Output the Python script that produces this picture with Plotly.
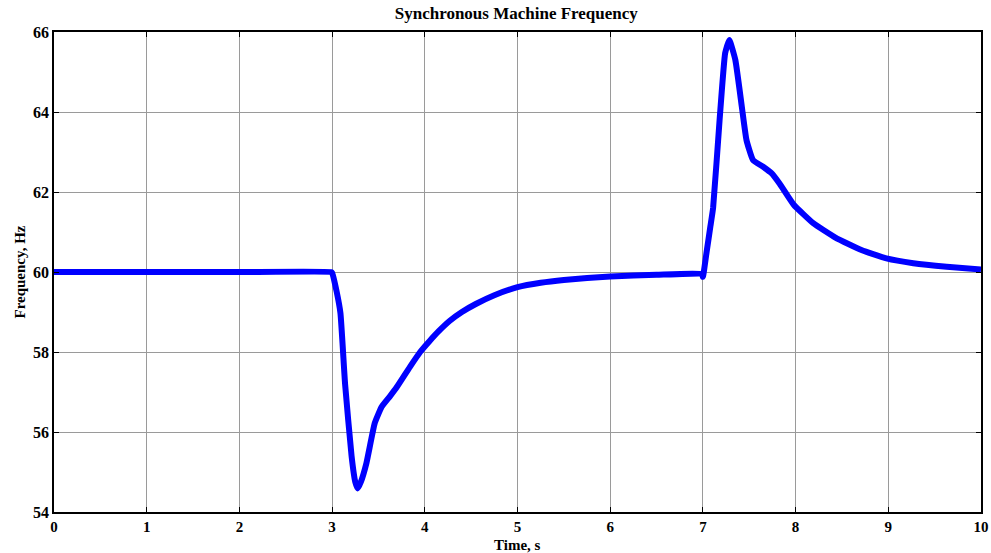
import plotly.graph_objects as go

# Simulated synchronous machine frequency response (time in s, frequency in Hz)
time_s = [0.0, 1.0, 2.0, 2.99, 3.0, 3.05, 3.09, 3.14, 3.21, 3.25, 3.276, 3.31, 3.37, 3.46,
          3.535, 3.62, 3.70, 3.84, 3.95, 4.05, 4.15, 4.27, 4.4, 4.55, 4.75, 5.0, 5.25, 5.5,
          6.0, 6.5, 6.99, 7.0, 7.04, 7.08, 7.11, 7.18, 7.24, 7.285, 7.35, 7.42, 7.47, 7.54,
          7.65, 7.74, 7.83, 7.98, 8.19, 8.43, 8.71, 8.98, 9.27, 9.63, 10.0]
freq_hz = [60.0, 60.0, 60.0, 60.0, 59.98, 59.5, 58.97, 57.2, 55.4, 54.75, 54.59, 54.75, 55.22, 56.22,
           56.63, 56.88, 57.13, 57.63, 58.0, 58.27, 58.52, 58.78, 59.0, 59.2, 59.42, 59.62, 59.73, 59.8,
           59.89, 59.93, 59.95, 59.88, 60.5, 61.13, 61.6, 63.8, 65.47, 65.8, 65.3, 64.13, 63.3, 62.8,
           62.63, 62.47, 62.2, 61.68, 61.22, 60.86, 60.55, 60.34, 60.22, 60.13, 60.06]

x_ticks = list(range(0, 11))
y_ticks = [54, 56, 58, 60, 62, 64, 66]

font_family = "Liberation Serif, Times New Roman, serif"

fig = go.Figure()
fig.add_trace(go.Scatter(
    x=time_s, y=freq_hz, mode="lines",
    line=dict(color="#0000FF", width=6, shape="spline", smoothing=0.4),
    showlegend=False,
))

axis_common = dict(
    showgrid=True, gridcolor="#9a9a9a", gridwidth=1,
    showline=True, linecolor="black", linewidth=1.5, mirror="ticks",
    ticks="inside", ticklen=5, tickcolor="black", tickwidth=1,
    zeroline=False, automargin=False,
)

fig.update_xaxes(range=[0, 10], tickvals=x_ticks, ticktext=[str(v) for v in x_ticks],
                 tickfont=dict(family=font_family, size=15, color="black", weight="bold"),
                 **axis_common)
fig.update_yaxes(range=[54, 66], tickvals=y_ticks, ticktext=[str(v) for v in y_ticks],
                 tickfont=dict(family=font_family, size=16, color="black", weight="bold"),
                 title=dict(text="<b>Frequency, Hz</b>", standoff=4,
                            font=dict(family=font_family, size=15, color="black")),
                 **axis_common)

# x-axis title placed just below the tick labels
fig.add_annotation(text="<b>Time, s</b>", xref="paper", yref="paper",
                   x=0.5, y=-0.068, xanchor="center", yanchor="middle",
                   showarrow=False,
                   font=dict(family=font_family, size=15, color="black"))

fig.update_layout(
    width=991, height=553,
    margin=dict(l=54, r=10, t=32, b=41),
    paper_bgcolor="white", plot_bgcolor="white",
    title=dict(text="<b>Synchronous Machine Frequency</b>", x=0.521, xanchor="center",
               y=0.976, yanchor="middle",
               font=dict(family=font_family, size=17, color="black")),
)

fig.write_html("out.html")
